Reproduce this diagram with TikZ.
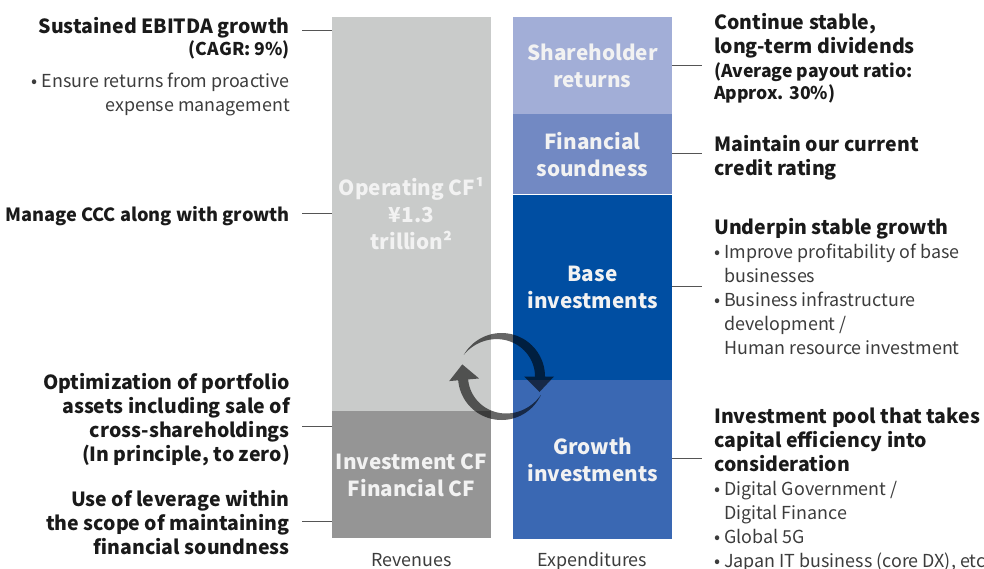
\documentclass[tikz,border=0pt]{standalone}
\usepackage{fontspec}
\setmainfont{Noto Sans CJK JP}
\usetikzlibrary{positioning}
\definecolor{opgray}{HTML}{C9CBCA}
\definecolor{invgray}{HTML}{959595}
\definecolor{shblue}{HTML}{A2AED7}
\definecolor{fsblue}{HTML}{7289C3}
\definecolor{baseblue}{HTML}{004EA2}
\definecolor{grblue}{HTML}{3A68B3}
\definecolor{ink}{HTML}{1A1A1A}
\definecolor{softink}{HTML}{3C3C3C}
\definecolor{leader}{HTML}{555555}
\newcommand\bul{\makebox[10pt][l]{•}}
\newcommand\bulpad{\hspace*{10pt}}
\tikzstyle{cfbox}=[rectangle, inner sep=0pt, minimum width=159pt, text=white!95!black, font=\fontsize{20.7}{27}\selectfont\bfseries, align=center]
\tikzstyle{head}=[inner sep=0pt, text=ink, font=\fontsize{19.5}{24}\selectfont\bfseries]
\tikzstyle{note}=[inner sep=0pt, text=ink, font=\fontsize{17.6}{22.5}\selectfont\bfseries]
\tikzstyle{point}=[inner sep=0pt, text=softink, font=\fontsize{17.9}{24}\selectfont]
\tikzstyle{leaderline}=[draw=leader, line width=1pt]
\tikzstyle{cycarrow}=[fill=black, fill opacity=0.6]

\begin{document}
\begin{tikzpicture}[x=1pt, y=1pt]
  \useasboundingbox (0,0) rectangle (984,-568);
  % revenues
  \node[cfbox, fill=opgray, minimum height=394pt] (opcf) at (411.5,-214) {Operating CF¹\\¥1.3\\trillion²};
  \node[cfbox, fill=invgray, minimum height=127pt, below=0pt of opcf] (icf) {Investment CF\\Financial CF};
  % expenditures
  \node[cfbox, fill=shblue, minimum height=97pt] (shr) at (592.5,-65.5) {Shareholder\\returns};
  \node[cfbox, fill=fsblue, minimum height=80pt, below=0pt of shr] (fsn) {Financial\\soundness};
  \node[cfbox, fill=baseblue, minimum height=185pt, below=0pt of fsn] (bse) {Base\\investments};
  \node[cfbox, fill=grblue, minimum height=159pt, below=0pt of bse] (grw) {Growth\\investments};
  \node[point, anchor=base] (rev) at (411.5,-566) {Revenues};
  \node[point, anchor=base] (exps) at (592.5,-566) {Expenditures};

  % cycle arrows
  \fill[cycarrow] plot[domain=150:0, samples=50] ({501.5+43.5*cos(\x)},{-376.5+43.5*sin(\x)})
    -- (554,-376.5) -- (539.5,-392) -- (524,-376.5)
    -- plot[domain=0:150, samples=50] ({501.5+(33.5+10*(\x/150)^2)*cos(\x)},{-376.5+(33.5+10*(\x/150)^2)*sin(\x)}) -- cycle;
  \fill[cycarrow, rotate around={185:(501.5,-376.5)}] plot[domain=150:0, samples=50] ({501.5+43.5*cos(\x)},{-376.5+43.5*sin(\x)})
    -- (554,-376.5) -- (539.5,-392) -- (524,-376.5)
    -- plot[domain=0:150, samples=50] ({501.5+(33.5+10*(\x/150)^2)*cos(\x)},{-376.5+(33.5+10*(\x/150)^2)*sin(\x)}) -- cycle;

  % left side
  \node[head, anchor=base east] (ebitda) at (290,-33) {Sustained EBITDA growth};
  \node[note, anchor=base east] (cagr) at (290,-55.5) {(CAGR: 9\%)};
  \node[point, anchor=base east, align=right] (ensure) at (290,-111) {\bul Ensure returns from proactive\\expense management};
  \node[head, anchor=base east, font=\fontsize{18.2}{24}\selectfont\bfseries] (ccc) at (290,-221) {Manage CCC along with growth};
  \node[head, anchor=base east, align=right] (optim) at (290,-461) {Optimization of portfolio\\assets including sale of\\cross-shareholdings\\(In principle, to zero)};
  \node[head, anchor=base east, align=right] (lever) at (290,-554) {Use of leverage within\\the scope of maintaining\\financial soundness};
  \coordinate (ebitdaend) at (302,-30);
  \coordinate (cccend) at (302,-213);
  \coordinate (optimend) at (302,-426);
  \coordinate (leverend) at (302,-521);
  \draw[leaderline] (ebitdaend) -- (ebitdaend -| opcf.west);
  \draw[leaderline] (cccend) -- (cccend -| opcf.west);
  \draw[leaderline] (optimend) -- (optimend -| icf.west);
  \draw[leaderline] (leverend) -- (leverend -| icf.west);

  % right side
  \node[head, anchor=base west, align=left] (divid) at (714,-53.5) {Continue stable,\\long-term dividends};
  \node[note, anchor=base west, align=left] (payout) at (714,-99.5) {(Average payout ratio:\\Approx. 30\%)};
  \node[head, anchor=base west, align=left] (rating) at (714,-175) {Maintain our current\\credit rating};
  \node[head, anchor=base west] (underpin) at (714,-234) {Underpin stable growth};
  \node[point, anchor=base west, align=left] (baselist) at (714,-354) {\bul Improve profitability of base\\\bulpad businesses\\\bul Business infrastructure\\\bulpad development /\\\bulpad Human resource investment};
  \node[head, anchor=base west, align=left] (pool) at (714,-471) {Investment pool that takes\\capital efficiency into\\consideration};
  \node[point, anchor=base west, align=left] (growlist) at (714,-567) {\bul Digital Government /\\\bulpad Digital Finance\\\bul Global 5G\\\bul Japan IT business (core DX), etc.};
  \coordinate (shrend) at (702,-65);
  \coordinate (fsnend) at (702,-153);
  \coordinate (bseend) at (702,-286);
  \coordinate (grwend) at (702,-458);
  \draw[leaderline] (shr.east |- shrend) -- (shrend);
  \draw[leaderline] (fsn.east |- fsnend) -- (fsnend);
  \draw[leaderline] (bse.east |- bseend) -- (bseend);
  \draw[leaderline] (grw.east |- grwend) -- (grwend);
\end{tikzpicture}
\end{document}
